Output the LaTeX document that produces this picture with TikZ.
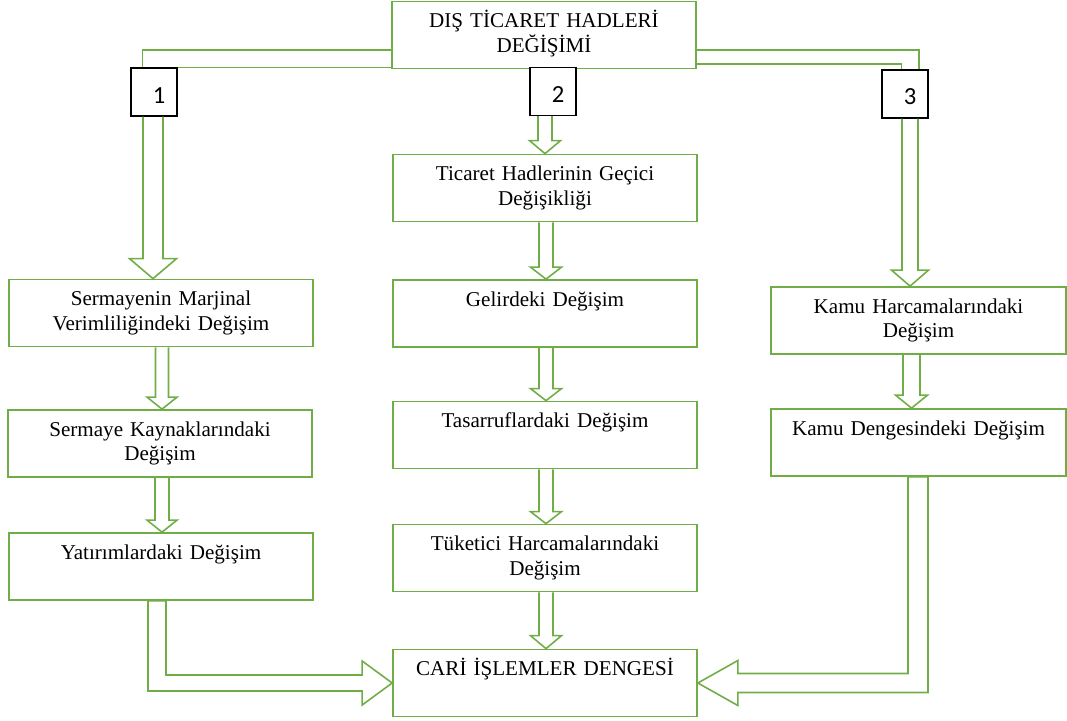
\documentclass[tikz,border=0pt]{standalone}
\usepackage{fontspec}
\setmainfont{Liberation Serif}
\newfontfamily\numfont{Carlito}
\usepackage{tikz}
\usetikzlibrary{calc}
\definecolor{boxgreen}{RGB}{112,173,71}

% hollow arrow: from node, to node, x offset, half shaft, half head, head length
\newcommand{\hollowdown}[6]{%
  \draw[flow] let \p1=(#1.south), \p2=(#2.north) in
    (\x1+#3-#4,\y1) -- (\x1+#3-#4,\y2+#6) -- (\x1+#3-#5,\y2+#6) -- (\x1+#3,\y2)
    -- (\x1+#3+#5,\y2+#6) -- (\x1+#3+#4,\y2+#6) -- (\x1+#3+#4,\y1);}

\begin{document}
\begin{tikzpicture}[x=0.02cm, y=-0.02cm,
  box/.style={draw=boxgreen, line width=1pt, fill=white, text width=5.68cm,
    inner xsep=0.2cm, inner ysep=0pt, align=center, text height=0.52cm,
    text depth=0.82cm, font=\fontsize{12pt}{14.2pt}\selectfont},
  numbox/.style={draw=black, line width=0.8pt, fill=white, minimum width=0.92cm,
    minimum height=0.96cm, inner sep=0pt, text height=0.44cm, text depth=0pt,
    font=\numfont\fontsize{14pt}{16pt}\selectfont,
    execute at begin node=\hspace*{0.2cm}},
  flow/.style={draw=boxgreen, line width=0.9pt, line join=miter}]
\useasboundingbox (0,0) rectangle (1067,720);

% ===== boxes =====
\node[box] (top) at (544,35) {DIŞ TİCARET HADLERİ\\DEĞİŞİMİ};
% left column
\node[box] (marj) at (161,313) {Sermayenin Marjinal\\Verimliliğindeki Değişim};
\node[box] (kayn) at (160,443.5) {Sermaye Kaynaklarındaki\\Değişim};
\node[box] (yat) at (161,566.5) {Yatırımlardaki Değişim};
% middle column
\node[box] (gecici) at (545,188) {Ticaret Hadlerinin Geçici\\Değişikliği};
\node[box] (gelir) at (545,313.5) {Gelirdeki Değişim};
\node[box] (tasarruf) at (545,435) {Tasarruflardaki Değişim};
\node[box] (tuketici) at (545,558) {Tüketici Harcamalarındaki\\Değişim};
\node[box] (cari) at (545,683) {CARİ İŞLEMLER DENGESİ};
% right column
\node[box, text width=5.5cm] (kamuh) at (918.5,320.5) {Kamu Harcamalarındaki\\Değişim};
\node[box, text width=5.5cm] (kamud) at (918.5,442.5) {Kamu Dengesindeki Değişim};

% channel numbers
\node[numbox] (n1) at (154,92) {1};
\node[numbox] (n2) at (553,91.5) {2};
\node[numbox] (n3) at (905,94) {3};

% ===== branches from the top box =====
\draw[flow] ([yshift=-0.3cm]top.west) -| ([xshift=0.24cm]n1.north west);
\draw[flow] (n1.north east) -- (n1.north east -| top.west);
\draw[flow] ([yshift=-0.3cm]top.east) -| ([xshift=-0.2cm]n3.north east);
\draw[flow] ([yshift=-0.58cm]top.east) -| ([xshift=0.4cm]n3.north west);

% ===== straight arrows =====
\hollowdown{n1}{marj}{-0.02cm}{0.2cm}{0.47cm}{0.4cm}
\hollowdown{n2}{gecici}{-0.16cm}{0.14cm}{0.31cm}{0.26cm}
\hollowdown{n3}{kamuh}{0.1cm}{0.16cm}{0.37cm}{0.32cm}
\hollowdown{marj}{kayn}{0.02cm}{0.13cm}{0.3cm}{0.24cm}
\hollowdown{kayn}{yat}{0.04cm}{0.14cm}{0.3cm}{0.24cm}
\hollowdown{gecici}{gelir}{0.02cm}{0.14cm}{0.31cm}{0.24cm}
\hollowdown{gelir}{tasarruf}{0.02cm}{0.14cm}{0.31cm}{0.24cm}
\hollowdown{tasarruf}{tuketici}{0.02cm}{0.14cm}{0.31cm}{0.24cm}
\hollowdown{tuketici}{cari}{0.02cm}{0.14cm}{0.31cm}{0.26cm}
\hollowdown{kamuh}{kamud}{-0.14cm}{0.17cm}{0.32cm}{0.26cm}

% ===== bent arrows into the balance =====
\draw[flow] let \p1=(yat.south), \p2=(cari.west) in
  (\x1-0.26cm,\y1) -- (\x1-0.26cm,\y2-0.16cm) -- (\x2-0.6cm,\y2-0.16cm)
  -- (\x2-0.6cm,\y2-0.44cm) -- (\x2,\y2) -- (\x2-0.6cm,\y2+0.44cm)
  -- (\x2-0.6cm,\y2+0.16cm) -- (\x1+0.1cm,\y2+0.16cm) -- (\x1+0.1cm,\y1) -- cycle;
\draw[flow] let \p1=(kamud.south), \p2=(cari.east) in
  (\x1-0.21cm,\y1) -- (\x1-0.21cm,\y2+0.19cm) -- (\x2+0.8cm,\y2+0.19cm)
  -- (\x2+0.8cm,\y2+0.45cm) -- (\x2,\y2) -- (\x2+0.8cm,\y2-0.45cm)
  -- (\x2+0.8cm,\y2-0.19cm) -- (\x1+0.19cm,\y2-0.19cm) -- (\x1+0.19cm,\y1) -- cycle;
\end{tikzpicture}
\end{document}
